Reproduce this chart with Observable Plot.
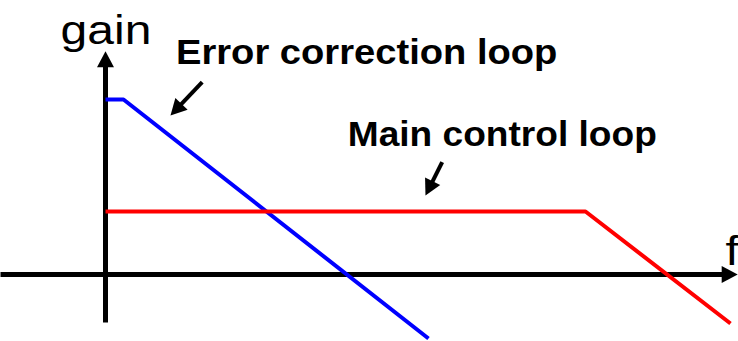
<!DOCTYPE html>
<html>
<head>
<meta charset="utf-8">
<script src="https://cdn.jsdelivr.net/npm/d3@7"></script>
<script src="https://cdn.jsdelivr.net/npm/@observablehq/plot@0.6"></script>
<style>
  html, body { margin: 0; padding: 0; background: #fff; overflow: hidden; }
</style>
</head>
<body>
<div id="chart"></div>
<script>
// Frequency / gain in arbitrary units (origin at the axes' crossing)
const freqError = [0, 1.8, 32.3];
const gainError = [17.5, 17.5, -6.4];
const freqMain = [0, 48.0, 62.5];
const gainMain = [6.3, 6.3, -4.9];

// Axes (shaft start, shaft end)
const axisNames = ["f", "gain"];
const axisX1 = [-10.5, 0];
const axisY1 = [0, -4.8];
const axisX2 = [62.1, 0];
const axisY2 = [0, 21.2];

// Pointer arrows to the curves
const pointerNames = ["Error correction loop", "Main control loop"];
const pointerX1 = [9.67, 33.67];
const pointerY1 = [19.23, 11.23];
const pointerX2 = [7.27, 32.5];
const pointerY2 = [16.71, 8.9];

// Labels
const labelTexts = ["gain", "f", "Error correction loop", "Main control loop"];
const labelF = [-4.49, 62.0, 7.05, 24.23];
const labelG = [23.07, 1.0, 21.07, 12.9];

// ---- styling (not data) ----
const labelStyle = {
  "gain": {size: 40, weight: "normal", sx: 1.2},
  "f": {size: 40, weight: "normal", sx: 1.2},
  "Error correction loop": {size: 35, weight: "bold", sx: 1.09},
  "Main control loop": {size: 35, weight: "bold", sx: 1.06}
};

const toLine = (fs, gs) => fs.map((f, i) => ({f, gain: gs[i]}));
const errorLine = toLine(freqError, gainError);
const mainLine = toLine(freqMain, gainMain);

const segs = (names, x1, y1, x2, y2) => names.map((name, i) => ({
  name, x1: x1[i], y1: y1[i], x2: x2[i], y2: y2[i],
  angle: Math.atan2(x2[i] - x1[i], y2[i] - y1[i]) * 180 / Math.PI
}));
const axes = segs(axisNames, axisX1, axisY1, axisX2, axisY2);
const pointers = segs(pointerNames, pointerX1, pointerY1, pointerX2, pointerY2);
const labels = labelTexts.map((t, i) => ({t, f: labelF[i], g: labelG[i]}));

// filled triangular arrow head, pointing up at rotate 0
const head = {
  draw(context, size) {
    const r = Math.sqrt(size / Math.PI);
    context.moveTo(0, -0.7 * r);
    context.lineTo(0.53 * r, 0.3 * r);
    context.lineTo(-0.53 * r, 0.3 * r);
    context.closePath();
  }
};

const font = "'Liberation Sans', Arial, Helvetica, sans-serif";

const textMark = (weight) => Plot.text(labels.filter(d => labelStyle[d.t].weight === weight), {
  x: "f", y: "g", text: "t",
  textAnchor: "start", lineAnchor: "bottom",
  fontFamily: font,
  fontSize: d => labelStyle[d.t].size,
  fontWeight: weight,
  fill: "black"
});

const svg = Plot.plot({
  width: 738,
  height: 341,
  margin: 0,
  x: {domain: [-10.5, 63.3], axis: null},
  y: {domain: [-6.7, 27.4], axis: null},
  style: {background: "white", overflow: "hidden"},
  marks: [
    Plot.link(axes, {x1: "x1", y1: "y1", x2: "x2", y2: "y2", stroke: "black", strokeWidth: 5, strokeLinecap: "butt"}),
    Plot.dot(axes, {x: "x2", y: "y2", symbol: head, r: 16, rotate: "angle", fill: "black", stroke: "none"}),
    Plot.line(errorLine, {x: "f", y: "gain", stroke: "#0000ff", strokeWidth: 4, strokeLinejoin: "miter", strokeLinecap: "butt", curve: "linear"}),
    Plot.line(mainLine, {x: "f", y: "gain", stroke: "#ff0000", strokeWidth: 4, strokeLinejoin: "miter", strokeLinecap: "butt", curve: "linear"}),
    Plot.link(pointers, {x1: "x1", y1: "y1", x2: "x2", y2: "y2", stroke: "black", strokeWidth: 4, strokeLinecap: "butt"}),
    Plot.dot(pointers, {x: "x2", y: "y2", symbol: head, r: 16, rotate: "angle", fill: "black", stroke: "none"}),
    textMark("normal"),
    textMark("bold")
  ]
});

// horizontal stretch of the labels to match the reference lettering
svg.querySelectorAll("text").forEach(el => {
  const st = labelStyle[el.textContent];
  if (!st) return;
  const tr = el.getAttribute("transform") || "";
  el.setAttribute("transform", tr + ` scale(${st.sx},1)`);
});

document.getElementById("chart").appendChild(svg);
</script>
</body>
</html>
